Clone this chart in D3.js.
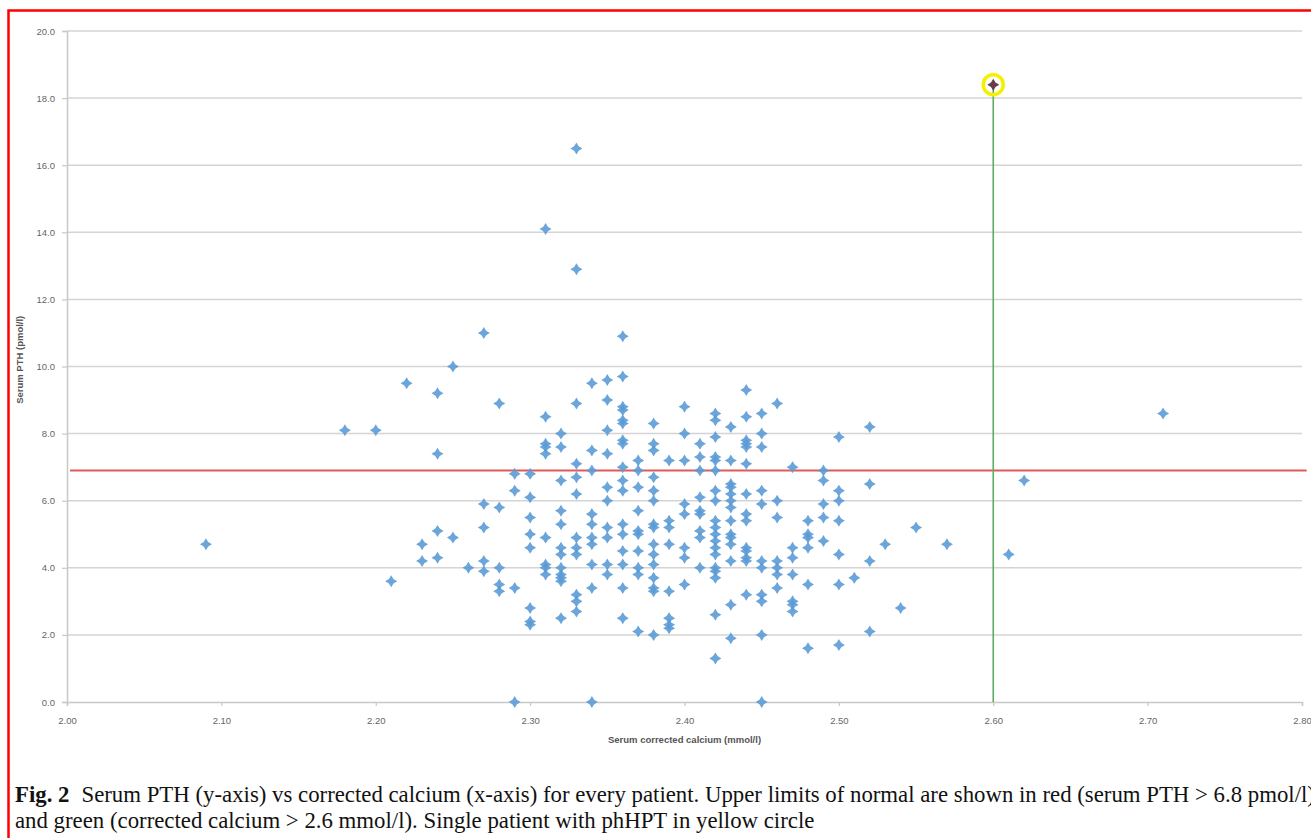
<!DOCTYPE html>
<html>
<head>
<meta charset="utf-8">
<script src="https://cdn.jsdelivr.net/npm/d3@7"></script>
<style>
  body { margin: 0; background: #fff; }
  svg { display: block; }
</style>
</head>
<body>
<div id="chart"></div>
<script>
// calcium levels (mmol/l) and the PTH values (pmol/l) seen at each level
const calciumLevels = [2.09, 2.18, 2.20, 2.21, 2.22, 2.23, 2.24, 2.25, 2.26, 2.27, 2.28, 2.29, 2.30,
  2.31, 2.32, 2.33, 2.34, 2.35, 2.36, 2.37, 2.38, 2.39, 2.40, 2.41, 2.42, 2.43, 2.44, 2.45, 2.46,
  2.47, 2.48, 2.49, 2.50, 2.51, 2.52, 2.53, 2.54, 2.55, 2.57, 2.61, 2.62, 2.71];

const pthByLevel = [
  [4.7],
  [8.1],
  [8.1],
  [3.6],
  [9.5],
  [4.7, 4.2],
  [9.2, 7.4, 5.1, 4.3],
  [10.0, 4.9],
  [4.0],
  [11.0, 5.9, 5.2, 4.2, 3.9],
  [8.9, 5.8, 4.0, 3.5, 3.3],
  [6.8, 6.3, 3.4, 0.0],
  [6.8, 6.1, 5.5, 5.0, 4.6, 2.8, 2.4, 2.3],
  [14.1, 8.5, 7.7, 7.6, 7.4, 4.9, 4.1, 4.0, 3.8],
  [8.0, 7.6, 6.6, 5.7, 5.3, 4.6, 4.4, 4.0, 3.8, 3.7, 3.6, 2.5],
  [16.5, 12.9, 8.9, 7.1, 6.7, 6.2, 4.9, 4.6, 4.4, 3.2, 3.0, 2.7],
  [9.5, 7.5, 6.9, 5.6, 5.3, 4.9, 4.7, 4.1, 3.4, 0.0],
  [9.6, 9.0, 8.1, 7.4, 6.4, 6.0, 5.2, 4.9, 4.1, 3.8],
  [10.9, 9.7, 8.8, 8.7, 8.4, 8.3, 7.8, 7.7, 7.0, 6.6, 6.3, 5.3, 5.0, 4.5, 4.1, 3.4, 2.5],
  [7.2, 6.9, 6.4, 5.7, 5.1, 5.0, 4.5, 4.0, 3.8, 2.1],
  [8.3, 7.7, 7.5, 6.7, 6.3, 6.0, 5.3, 5.2, 4.7, 4.4, 4.1, 3.7, 3.4, 3.3, 2.0],
  [7.2, 5.4, 5.2, 4.7, 3.3, 2.5, 2.3, 2.2],
  [8.8, 8.0, 7.2, 5.9, 5.6, 4.6, 4.3, 3.5],
  [7.7, 7.3, 6.9, 6.1, 5.7, 5.6, 5.1, 4.9, 4.0],
  [8.6, 8.4, 7.9, 7.3, 7.2, 6.9, 6.3, 6.0, 5.4, 5.2, 5.0, 4.8, 4.6, 4.4, 4.0, 3.9, 3.7, 2.6, 1.3],
  [8.2, 7.2, 6.5, 6.4, 6.2, 6.0, 5.8, 5.4, 5.0, 4.9, 4.7, 4.2, 2.9, 1.9],
  [9.3, 8.5, 7.8, 7.7, 7.6, 7.1, 6.2, 5.6, 5.4, 4.6, 4.5, 4.3, 4.2, 3.2],
  [8.6, 8.0, 7.6, 6.3, 5.9, 4.2, 4.0, 3.2, 3.0, 2.0, 0.0],
  [8.9, 6.0, 5.5, 4.2, 4.0, 3.8, 3.4],
  [7.0, 4.6, 4.3, 3.8, 3.0, 2.9, 2.7],
  [5.4, 5.0, 4.9, 4.6, 3.5, 1.6],
  [6.9, 6.6, 5.9, 5.5, 4.8],
  [7.9, 6.3, 6.0, 5.4, 4.4, 3.5, 1.7],
  [3.7],
  [8.2, 6.5, 4.2, 2.1],
  [4.7],
  [2.8],
  [5.2],
  [4.7],
  [4.4],
  [6.6],
  [8.6]
];

// patient with phHPT
const phhpt = { calcium: 2.60, pth: 18.4 };

// upper limits of normal
const pthLimit = 6.9;
const calciumLimit = 2.60;

const xTicks = [2.0, 2.1, 2.2, 2.3, 2.4, 2.5, 2.6, 2.7, 2.8];
const yTicks = [0, 2, 4, 6, 8, 10, 12, 14, 16, 18, 20];

const xTitle = 'Serum corrected calcium (mmol/l)';
const yTitle = 'Serum PTH (pmol/l)';
const captionLine1 = 'Serum PTH (y-axis) vs corrected calcium (x-axis) for every patient. Upper limits of normal are shown in red (serum PTH > 6.8 pmol/l)';
const captionLine2 = 'and green (corrected calcium > 2.6 mmol/l). Single patient with phHPT in yellow circle';

const W = 1311, H = 838;
const points = [];
calciumLevels.forEach((c, i) => pthByLevel[i].forEach(p => points.push({ c, p })));

const svg = d3.select('#chart').append('svg')
  .attr('width', W).attr('height', H);

const x = d3.scaleLinear().domain([2.0, 2.8]).range([67, 1302]);
const y = d3.scaleLinear().domain([0, 20]).range([702, 31]);

// red frame round the figure
svg.append('rect')
  .attr('x', 8.5).attr('y', 10.5)
  .attr('width', W + 20).attr('height', H + 20)
  .attr('fill', 'none')
  .attr('stroke', '#ff0000')
  .attr('stroke-width', 2.5);

// gridlines
svg.append('g')
  .selectAll('line')
  .data(yTicks.filter(d => d > 0))
  .enter().append('line')
  .attr('x1', x(2.0)).attr('x2', x(2.8))
  .attr('y1', d => y(d)).attr('y2', d => y(d))
  .attr('stroke', '#d4d4d4')
  .attr('stroke-width', 1.5);

// y axis
const yAxis = svg.append('g')
  .attr('transform', `translate(${x(2.0)},0)`)
  .call(d3.axisLeft(y).tickValues(yTicks).tickFormat(d3.format('.1f')).tickSize(5).tickPadding(7));

// x axis
const xAxis = svg.append('g')
  .attr('transform', `translate(0,${y(0)})`)
  .call(d3.axisBottom(x).tickValues(xTicks).tickFormat(d3.format('.2f')).tickSize(4).tickPadding(11));

[yAxis, xAxis].forEach(a => {
  a.select('.domain').attr('stroke', '#c8c8c8').attr('stroke-width', 1.5);
  a.selectAll('.tick line').attr('stroke', '#c8c8c8').attr('stroke-width', 1.2);
  a.selectAll('.tick text')
    .attr('fill', '#666')
    .style('font-family', 'Liberation Sans, Arial, sans-serif')
    .style('font-size', '9.5px');
});

// axis titles
svg.append('text')
  .attr('x', (x(2.0) + x(2.8)) / 2).attr('y', 743)
  .attr('text-anchor', 'middle')
  .attr('fill', '#555')
  .style('font-family', 'Liberation Sans, Arial, sans-serif')
  .style('font-size', '9.5px')
  .style('font-weight', 'bold')
  .text(xTitle);

svg.append('text')
  .attr('transform', `translate(23,${y(10.2)}) rotate(-90)`)
  .attr('text-anchor', 'middle')
  .attr('fill', '#555')
  .style('font-family', 'Liberation Sans, Arial, sans-serif')
  .style('font-size', '9.5px')
  .style('font-weight', 'bold')
  .text(yTitle);

// limit lines
svg.append('line')
  .attr('x1', x(2.002)).attr('x2', x(2.803))
  .attr('y1', y(pthLimit)).attr('y2', y(pthLimit))
  .attr('stroke', '#e05a5a')
  .attr('stroke-width', 2);

svg.append('line')
  .attr('x1', x(calciumLimit)).attr('x2', x(calciumLimit))
  .attr('y1', y(0)).attr('y2', y(phhpt.pth))
  .attr('stroke', '#5fae5f')
  .attr('stroke-width', 1.6);

// four-point star marker like the spreadsheet one
const star4 = {
  draw(ctx, size) {
    const r = Math.sqrt(size) / 2;
    const w = r * 0.38;
    ctx.moveTo(0, -r);
    ctx.lineTo(w, -w);
    ctx.lineTo(r, 0);
    ctx.lineTo(w, w);
    ctx.lineTo(0, r);
    ctx.lineTo(-w, w);
    ctx.lineTo(-r, 0);
    ctx.lineTo(-w, -w);
    ctx.closePath();
  }
};
const marker = d3.symbol().type(star4).size(144);

svg.append('g')
  .selectAll('path')
  .data(points)
  .enter().append('path')
  .attr('transform', d => `translate(${x(d.c)},${y(d.p)})`)
  .attr('d', marker)
  .attr('fill', '#5b9bd5')
  .attr('fill-opacity', 0.9);

// phHPT patient
svg.append('path')
  .attr('transform', `translate(${x(phhpt.calcium)},${y(phhpt.pth)})`)
  .attr('d', marker)
  .attr('fill', '#6b3b4a');

svg.append('circle')
  .attr('cx', x(phhpt.calcium)).attr('cy', y(phhpt.pth))
  .attr('r', 10)
  .attr('fill', 'none')
  .attr('stroke', '#f5f000')
  .attr('stroke-width', 3.5);

// caption
const cap = svg.append('g')
  .style('font-family', 'Liberation Serif, Times New Roman, serif')
  .style('font-size', '22.8px')
  .attr('fill', '#111');

const l1 = cap.append('text').attr('x', 15).attr('y', 802);
l1.append('tspan').style('font-weight', 'bold').text('Fig. 2');
l1.append('tspan').attr('dx', 12).text(captionLine1);

cap.append('text').attr('x', 15).attr('y', 828).text(captionLine2);
</script>
</body>
</html>
